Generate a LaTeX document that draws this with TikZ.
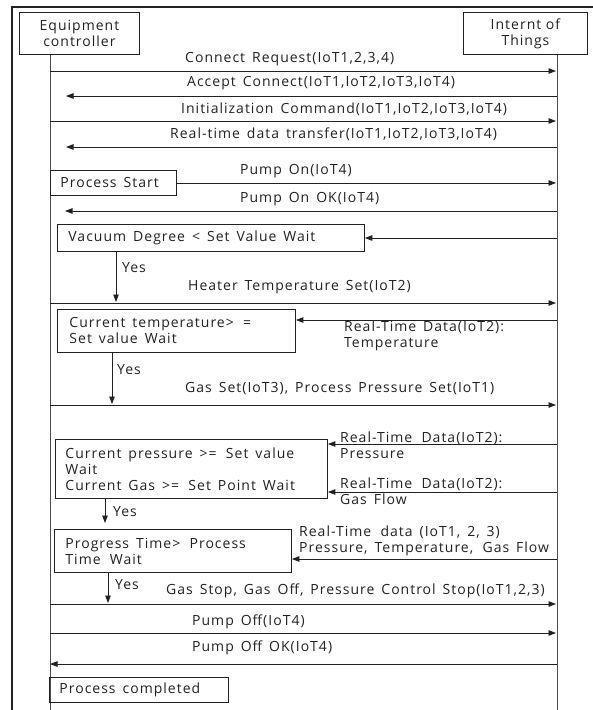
\documentclass[tikz,border=0pt]{standalone}
\usepackage{fontspec}
\setmainfont{Open Sans}[LetterSpace=7.2]
\usetikzlibrary{arrows.meta}
\definecolor{ink}{HTML}{222222}
\newcommand{\dfont}{\fontsize{14}{16}\selectfont}
\tikzset{
  lbl/.style={anchor=west, inner sep=0pt, text=ink, font=\dfont},
  cbox/.style={draw=ink, line width=0.9pt, rectangle, anchor=north west, inner ysep=0pt, align=left, text=ink, font=\dfont},
  life/.style={draw=ink!80, line width=1pt},
  msg/.style={draw=ink, line width=0.9pt, -{Triangle[length=7.5pt,width=5.5pt]}},
}
\begin{document}
\begin{tikzpicture}[x=1pt,y=-1pt]
\useasboundingbox (0,0) rectangle (593,710);
% outer frame
\draw[draw=ink, line width=1.2pt] (12,710) -- (12,7) -- (593,7);
% actors
\node[cbox, minimum width=120, minimum height=42, inner xsep=0pt, align=center, text width=120] (ec) at (19,12) {Equipment\\controller};
\node[cbox, minimum width=124, minimum height=42, inner xsep=0pt, align=center, text width=124] (iot) at (463,12) {Internt of\\Things};
\coordinate (lb) at (50,710);
\coordinate (rb) at (557,710);
\draw[life] (ec.south -| lb) -- (lb);
\draw[life] (iot.south -| rb) -- (rb);

% 1 Connect Request
\coordinate (l1) at (50,71); \coordinate (r1) at (556,71);
\draw[msg] (l1) -- (r1);
\node[lbl] (t1) at (185,59) {Connect\, Request(IoT1,2,3,4)};
% 2 Accept Connect
\coordinate (l2) at (66,96); \coordinate (r2) at (557,96);
\draw[msg] (r2) -- (l2);
\node[lbl] (t2) at (187,83) {Accept\, Connect(IoT1,IoT2,IoT3,IoT4)};
% 3 Initialization
\coordinate (l3) at (50,121); \coordinate (r3) at (556,121);
\draw[msg] (l3) -- (r3);
\node[lbl] (t3) at (181,109) {Initialization\, Command(IoT1,IoT2,IoT3,IoT4)};
% 4 Real-time data transfer
\coordinate (l4) at (66,147); \coordinate (r4) at (557,147);
\draw[msg] (r4) -- (l4);
\node[lbl] (t4) at (170,134) {Real-time\, data\, transfer(IoT1,IoT2,IoT3,IoT4)};
% 5 Process Start / Pump On
\node[cbox, minimum width=126, minimum height=25, inner xsep=10pt, text width=106] (ps) at (50,170) {Process\, Start};
\coordinate (r5) at (556,183);
\draw[msg] (ps.east) -- (ps.east -| r5);
\node[lbl] (t5) at (240,171) {Pump\, On(IoT4)};
% 6 Pump On OK
\coordinate (l6) at (65,211); \coordinate (r6) at (557,211);
\draw[msg] (r6) -- (l6);
\node[lbl] (t6) at (240,199) {Pump\, On\, OK(IoT4)};
% 7 Vacuum
\node[cbox, minimum width=307, minimum height=27, inner xsep=11pt, text width=285] (vac) at (57,224) {Vacuum\, Degree\, <\, Set\, Value\, Wait};
\coordinate (r7) at (557,238);
\draw[msg] (r7) -- (vac.east |- r7);
% Yes 1
\coordinate (y1) at (116,302);
\draw[msg] (vac.south -| y1) -- (y1);
\node[lbl] (yes1) at (122,268) {Yes};
% 9 Heater
\coordinate (l9) at (50,303); \coordinate (r9) at (556,303);
\draw[msg] (l9) -- (r9);
\node[lbl] (t9) at (188,287) {Heater\, Temperature\, Set(IoT2)};
% 10 Current temperature
\node[cbox, minimum width=238, minimum height=43, inner xsep=12pt, text width=214] (ct) at (57,309) {Current\, temperature>\,\, =\\Set\, value\, Wait};
\coordinate (r10) at (557,320);
\draw[msg] (r10) -- (ct.east |- r10);
\node[lbl, align=left] (t10) at (344,336) {Real-Time\, Data(IoT2):\\Temperature};
% Yes 2
\coordinate (y2) at (112,404);
\draw[msg] (ct.south -| y2) -- (y2);
\node[lbl] (yes2) at (117,370) {Yes};
% 12 Gas Set
\coordinate (l12) at (50,405); \coordinate (r12) at (556,405);
\draw[msg] (l12) -- (r12);
\node[lbl] (t12) at (185,389) {Gas\, Set(IoT3),\, Process\, Pressure\, Set(IoT1)};
% 13 Current pressure
\node[cbox, minimum width=272, minimum height=59, inner xsep=10pt, text width=252] (cp) at (55,439) {Current\, pressure\, >=\,\, Set\, value\\Wait\\Current\, Gas\, >=\,\, Set\, Point\, Wait};
\coordinate (r13a) at (557,444);
\coordinate (r13b) at (557,492);
\draw[msg] (r13a) -- (cp.east |- r13a);
\draw[msg] (r13b) -- (cp.east |- r13b);
\node[lbl, align=left] (t13a) at (340,445) {Real-Time\,\, Data(IoT2):\\Pressure};
\node[lbl, align=left] (t13b) at (340,491) {Real-Time\,\, Data(IoT2):\\Gas\, Flow};
% Yes 3
\coordinate (y3) at (105,523);
\draw[msg] (cp.south -| y3) -- (y3);
\node[lbl] (yes3) at (113,512) {Yes};
% 15 Progress time
\node[cbox, minimum width=237, minimum height=43, inner xsep=11pt, text width=215] (pt) at (54,529) {Progress\, Time>\,\, Process\\Time\,\, Wait};
\coordinate (r15) at (557,559);
\draw[msg] (r15) -- (pt.east |- r15);
\node[lbl, align=left] (t15) at (299,541) {Real-Time\,\, data\, (IoT1,\, 2,\, 3)\\Pressure,\, Temperature,\,\, Gas\, Flow};
% Yes 4
\coordinate (y4) at (108,603);
\draw[msg] (pt.south -| y4) -- (y4);
\node[lbl] (yes4) at (115,585) {Yes};
% 17 Gas Stop
\coordinate (l17) at (50,604); \coordinate (r17) at (556,604);
\draw[msg] (l17) -- (r17);
\node[lbl] (t17) at (166,591) {Gas\, Stop,\, Gas\, Off,\, Pressure\, Control\, Stop(IoT1,2,3)};
% 18 Pump Off
\coordinate (l18) at (50,633); \coordinate (r18) at (556,633);
\draw[msg] (l18) -- (r18);
\node[lbl] (t18) at (192,622) {Pump\, Off(IoT4)};
% 19 Pump Off OK
\coordinate (l19) at (50,664); \coordinate (r19) at (557,664);
\draw[msg] (r19) -- (l19);
\node[lbl] (t19) at (192,648) {Pump\, Off\, OK(IoT4)};
% 20 Process completed
\node[cbox, minimum width=179, minimum height=25, inner xsep=10pt, text width=159] (pc) at (49,677) {Process\, completed};
\end{tikzpicture}
\end{document}
